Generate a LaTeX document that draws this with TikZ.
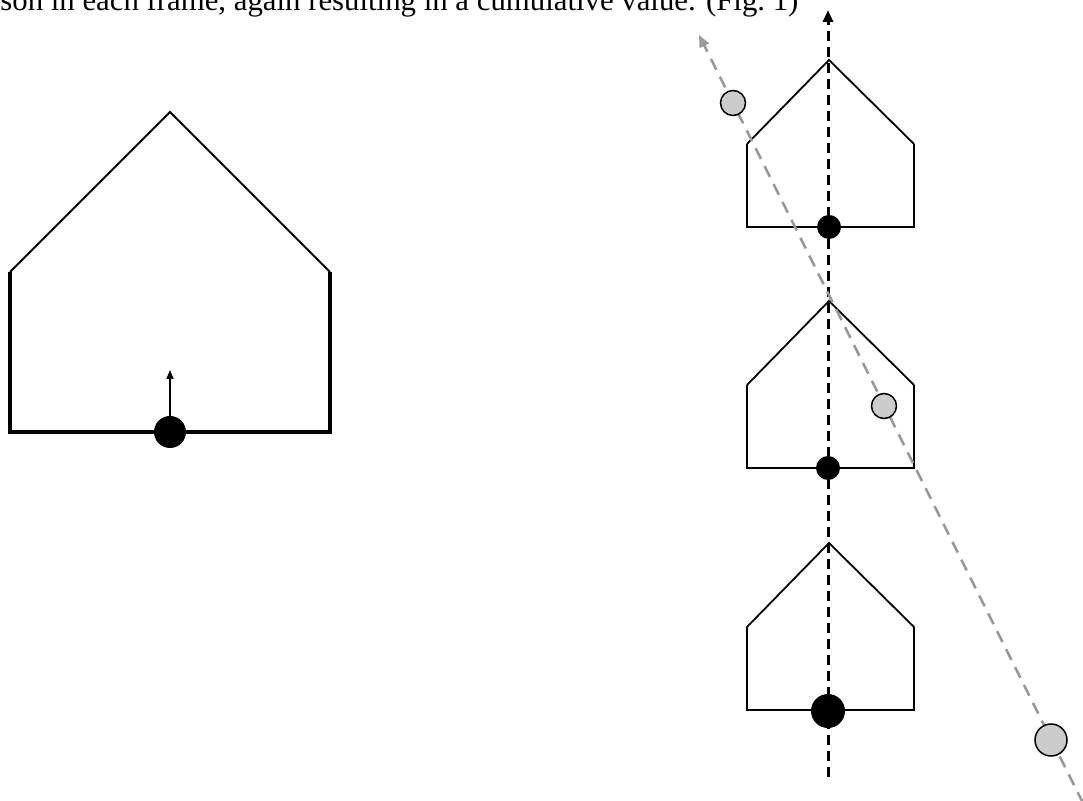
\documentclass[tikz,border=0pt]{standalone}
\usepackage{fontspec}
\setmainfont{Liberation Serif}
\usepackage{xcolor}
\usetikzlibrary{calc,arrows.meta}
\definecolor{ink}{HTML}{000000}
\definecolor{trail}{HTML}{999999}
\definecolor{ghost}{HTML}{CCCCCC}
\tikzset{
  roof/.style={draw=ink, line width=0.9pt, line join=miter},
  wall/.style={draw=ink, line width=1.1pt},
  bigwall/.style={draw=ink, line width=1.9pt},
  track/.style={draw=ink, line width=1.5pt, dash pattern=on 5pt off 3pt, -{Triangle[length=6pt,width=5pt]}},
  drift/.style={draw=trail, line width=1.3pt, dash pattern=on 6pt off 4pt, -{Triangle[length=6pt,width=5pt]}},
  pt/.style={circle, fill=ink, inner sep=0pt, minimum size=#1},
  gpt/.style={circle, draw=ink, fill=ghost, line width=0.75pt, inner sep=0pt, minimum size=#1},
  labm/.style={text=ink, font=\fontsize{15.4}{18}\selectfont, inner sep=0pt}
}

\begin{document}
\begin{tikzpicture}[x=0.5pt,y=-0.5pt]
  \useasboundingbox (0,0) rectangle (1083,801);

  % caption line, cut at the top
  \node[labm, anchor=base west] (cap) at (0,11) {son in each frame, again resulting in a cumulative value. (Fig.~1)};

  % big house
  \draw[roof] (10,272) -- (170,112) -- (330,272);
  \draw[bigwall] (10,272) -- (10,432) -- (330,432) -- (330,272);
  \node[pt=16pt] (p0) at (170,432) {};
  \coordinate (h0) at (170,370);
  \draw[ink, line width=0.8pt, -{Triangle[length=4.5pt,width=3.5pt]}] (p0.north) -- (h0);

  % three frames
  \foreach \y in {60,301,543}{
    \draw[roof] (747,\y+84) -- (829,\y) -- (914,\y+84);
    \draw[wall] (747,\y+84) -- (747,\y+167) -- (914,\y+167) -- (914,\y+84);
  }

  % paths
  \coordinate (vb) at (828,777);
  \coordinate (vt) at (828,10);
  \draw[track] (vb) -- (vt);
  \coordinate (gb) at (1083,803);
  \coordinate (gt) at (699,35);
  \draw[drift] (gb) -- (gt);

  \node[pt=12pt] (p1) at (829,227) {};
  \node[pt=12pt] (p2) at (828,468) {};
  \node[pt=17pt] (p3) at (828,711) {};

  \node[gpt=12.5pt] (g1) at (733,103) {};
  \node[gpt=12.5pt] (g2) at (884,406) {};
  \node[gpt=16pt] (g3) at (1051,740) {};
\end{tikzpicture}
\end{document}
